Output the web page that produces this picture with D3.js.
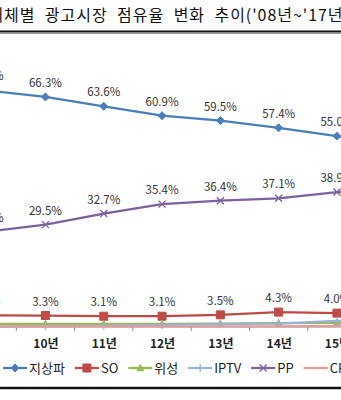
<!DOCTYPE html>
<html><head><meta charset="utf-8">
<script src="https://cdn.jsdelivr.net/npm/d3@7"></script>
<style>
html,body{margin:0;padding:0;background:#fff;overflow:hidden}
svg{display:block}
text{font-family:"Noto Sans CJK KR","Noto Sans",sans-serif}
</style></head>
<body>
<svg id="c" width="341" height="400"></svg>
<script>
const categories = ["08년","09년","10년","11년","12년","13년","14년","15년","16년","17년"];
const seriesNames = ["지상파","SO","위성","IPTV","PP","CP"];
const terrestrial = [71.0, 68.2, 66.3, 63.6, 60.9, 59.5, 57.4, 55.0, 53.2, 51.5];
const so          = [3.6, 3.4, 3.3, 3.1, 3.1, 3.5, 4.3, 4.0, 3.8, 3.6];
const satellite   = [0.8, 0.9, 0.9, 0.9, 0.9, 1.0, 1.1, 1.2, 1.2, 1.2];
const iptv        = [0.0, 0.1, 0.3, 0.4, 0.6, 0.8, 1.0, 1.8, 2.3, 2.8];
const pp          = [25.0, 27.5, 29.5, 32.7, 35.4, 36.4, 37.1, 38.9, 40.0, 41.3];
const cp          = [0.2, 0.2, 0.2, 0.2, 0.2, 0.2, 0.2, 0.3, 0.3, 0.3];
const titleText = "매체별 광고시장 점유율 변화 추이('08년~'17년)";

const colors = ["#4A7EBB","#BE4B48","#98B954","#95B3D7","#7D60A0","#E39C9A"];
const markers = ["diamond","square","triangle","plus","cross","none"];
const labelled = [true,true,false,false,true,false];
const values = [terrestrial, so, satellite, iptv, pp, cp];

const svg = d3.select("#c");

// title
const tStyle = s => s.attr("font-size",16).attr("font-family","'Noto Sans CJK KR'")
  .style("letter-spacing","0.95px").style("word-spacing","5px");
const title = svg.append("text").attr("y",21).attr("fill","#111").call(tStyle).text(titleText);
const tmp = svg.append("text").call(tStyle).text("매");
const w0 = tmp.node().getComputedTextLength(); tmp.remove();
title.attr("x", 4 - w0);
svg.append("line").attr("x1",0).attr("x2",341).attr("y1",31.5).attr("y2",31.5).attr("stroke","#111").attr("stroke-width",2);
svg.append("line").attr("x1",0).attr("x2",341).attr("y1",33.5).attr("y2",33.5).attr("stroke","#999").attr("stroke-width",1);

const x = d3.scaleBand().domain(categories).range([-100.3, 482.7]).padding(0);
const cx = c => x(c) + x.bandwidth()/2;
const y = d3.scaleLinear().domain([0,80]).range([327,49.4]);

// x axis line + ticks between categories
svg.append("line").attr("x1",0).attr("x2",341).attr("y1",y(0)).attr("y2",y(0)).attr("stroke","#8a8a8a");
svg.append("g").selectAll("line").data(categories).join("line")
  .attr("x1",d=>x(d)).attr("x2",d=>x(d)).attr("y1",y(0)).attr("y2",y(0)+4).attr("stroke","#8a8a8a");
const ax = svg.append("g").attr("transform",`translate(${x.bandwidth()/2},${y(0)})`)
  .call(d3.axisBottom(d3.scalePoint().domain(categories).range([x(categories[0]), x(categories[categories.length-1])])).tickSize(0).tickPadding(12));
ax.select(".domain").remove();
ax.selectAll("text").attr("font-size",12).attr("fill","#222").attr("font-family","'Noto Sans CJK KR'").attr("font-weight","bold");

function markerPath(type, s){
  const h = s/2;
  if(type==="diamond") return `M0,${-h-0.5}L${h+0.5},0L0,${h+0.5}L${-h-0.5},0Z`;
  if(type==="square") return `M${-h},${-h}H${h}V${h}H${-h}Z`;
  if(type==="triangle") return `M0,${-h}L${h},${h*0.8}L${-h},${h*0.8}Z`;
  if(type==="plus") return `M${-h},0H${h}M0,${-h}V${h}`;
  if(type==="cross") return `M${-h},${-h}L${h},${h}M${h},${-h}L${-h},${h}`;
  return "";
}
const markerSize = [7,8,7,8,7,0];
const line = d3.line().x((d,i)=>cx(categories[i])).y(d=>y(d));

values.forEach((vals, si) => {
  const g = svg.append("g");
  g.append("path").attr("d", line(vals)).attr("fill","none").attr("stroke",colors[si]).attr("stroke-width",2.25).attr("stroke-linejoin","round");
  const m = markers[si];
  if(m!=="none"){
    g.selectAll("path.m").data(vals).join("path").attr("class","m")
      .attr("transform",(d,i)=>`translate(${cx(categories[i])},${y(d)})`)
      .attr("d", markerPath(m, markerSize[si]))
      .attr("fill", (m==="plus"||m==="cross")?"none":colors[si])
      .attr("stroke", colors[si]).attr("stroke-width", (m==="plus"||m==="cross")?1.3:1);
  }
});
// labels
values.forEach((vals, si) => {
  if(!labelled[si]) return;
  svg.append("g").selectAll("text").data(vals).join("text")
    .attr("x",(d,i)=>cx(categories[i])).attr("y",d=>y(d)-10)
    .attr("text-anchor","middle").attr("font-size",11.5).attr("fill","#333")
    .attr("font-family","'Noto Sans','Noto Sans CJK KR'")
    .text(d=>d.toFixed(1)+"%");
});

// legend
const lg = svg.append("g").attr("transform","translate(0,368)");
let lx = 3;
seriesNames.forEach((n,si)=>{
  lg.append("line").attr("x1",lx).attr("x2",lx+24).attr("y1",0).attr("y2",0).attr("stroke",colors[si]).attr("stroke-width",2.25);
  if(markers[si]!=="none"){
    const m = markers[si];
    lg.append("path").attr("transform",`translate(${lx+12},0)`).attr("d",markerPath(m,markerSize[si]))
      .attr("fill",(m==="plus"||m==="cross")?"none":colors[si]).attr("stroke",colors[si]).attr("stroke-width",(m==="plus"||m==="cross")?1.3:1);
  }
  const t = lg.append("text").attr("x",lx+26).attr("y",5).attr("font-size",13).attr("fill","#222")
    .attr("font-family","'Noto Sans CJK KR'").text(n);
  lx += 26 + t.node().getComputedTextLength() + 10;
});

// bottom rule
svg.append("line").attr("x1",0).attr("x2",341).attr("y1",388).attr("y2",388).attr("stroke","#111").attr("stroke-width",2.5);
</script>
</body></html>
